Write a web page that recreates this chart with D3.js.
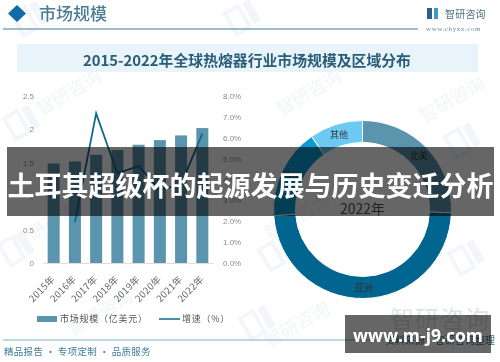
<!DOCTYPE html>
<html>
<head>
<meta charset="utf-8">
<script src="https://cdn.jsdelivr.net/npm/d3@7"></script>
<style>
  html, body { margin:0; padding:0; background:#fff; }
  text { font-family:"Noto Sans CJK SC","Noto Sans",sans-serif; }
</style>
</head>
<body>
<div class="chart"></div>
<script>
// values
const years = ["2015年","2016年","2017年","2018年","2019年","2020年","2021年","2022年"];
const marketSize = [1.49,1.52,1.62,1.69,1.77,1.84,1.91,2.02];
const growthYears = ["2016年","2017年","2018年","2019年","2020年","2021年","2022年"];
const growthRate = [1.96,7.17,4.3,4.65,3.5,3.76,6.2];
const leftTicks = [0,0.5,1,1.5,2,2.5];
const rightTicks = [0,1,2,3,4,5,6,7,8];
const regions = ["北美","亚洲","欧洲","其他"];
const regionShare = [25.6,48.3,16.4,9.7];
const regionColors = ["#5b94ad","#00668f","#0a9bd4","#6cc9f2"];

const chart = { width:500, height:362 };
// the plot area of the combo chart
const plot = { left:43, right:213, top:96, bottom:263 };
const donut = { x:362.5, y:209.5, outer:89, inner:67 };

const svg = d3.select(".chart").append("svg")
  .attr("width",chart.width)
  .attr("height",chart.height)
  .style("display","block");

const page = svg.append("g").style("filter","blur(0.35px)");

// faint watermarks behind everything
const markText = [[72,98],[312,98],[48,232],[300,222],[103,318],[300,330],[455,105]];
const markLogo = [[22,122],[243,17],[17,248],[277,253],[463,140],[467,257],[258,322],[30,18]];
page.selectAll(".markText").data(markText).enter().append("text")
  .attr("transform",d=>`translate(${d[0]},${d[1]}) rotate(-30)`)
  .attr("text-anchor","middle")
  .attr("font-size",18)
  .attr("fill","#f1f5f7")
  .text("智研咨询");
page.selectAll(".markLogo").data(markLogo).enter().append("g")
  .attr("transform",d=>`translate(${d[0]},${d[1]}) rotate(-30)`)
  .each(function(){
    const g = d3.select(this);
    g.append("rect").attr("x",-14).attr("y",-12).attr("width",15).attr("height",24).attr("fill","none").attr("stroke","#f2f6fa").attr("stroke-width",4);
    g.append("rect").attr("x",6).attr("y",-12).attr("width",8).attr("height",24).attr("fill","#f2f6fa");
  });

// header
page.append("path")
  .attr("d","M17,5L26,13.5L17,22L8,13.5Z")
  .attr("fill","#0f6ca6");
page.append("text").attr("x",39).attr("y",20)
  .attr("font-size",17).attr("font-weight",500).attr("fill","#4a7d96")
  .text("市场规模");
page.append("line").attr("x1",3).attr("x2",418).attr("y1",29).attr("y2",29)
  .attr("stroke","#3f7d99");
page.append("rect").attr("x",427).attr("y",8).attr("width",5).attr("height",11).attr("fill","#2c5f8e");
page.append("rect").attr("x",434).attr("y",8).attr("width",4).attr("height",11).attr("fill","#3c9ac9");
page.append("text").attr("x",445).attr("y",18)
  .attr("font-size",10).attr("fill","#4f6f84").attr("letter-spacing",0.2)
  .text("智研咨询");
page.append("text").attr("x",426).attr("y",31)
  .attr("font-size",7).attr("fill","#6f8a9a")
  .style("font-family","'Liberation Serif',serif").attr("letter-spacing",0.6)
  .text("www.chyxx.com");

// title strip
page.append("rect").attr("x",17).attr("y",44).attr("width",461).attr("height",28).attr("fill","#e8f3fa");
page.append("text").attr("x",247).attr("y",66)
  .attr("text-anchor","middle").attr("font-size",14.85).attr("font-weight",700).attr("fill","#2a5d78")
  .text("2015-2022年全球热熔器行业市场规模及区域分布");

// scales
const xScale = d3.scaleBand().domain(years).range([plot.left,plot.right]).paddingInner(0.435).paddingOuter(0.22);
const yScale = d3.scaleLinear().domain([0,2.5]).range([plot.bottom,plot.top]);
const y2Scale = d3.scaleLinear().domain([0,8]).range([plot.bottom,plot.top]);

// axes
const yAxis = d3.axisLeft(yScale).tickValues(leftTicks).tickSize(0).tickPadding(0).tickFormat(d=>d);
const leftAxis = page.append("g").attr("transform",`translate(34,0)`).call(yAxis);
const y2Axis = d3.axisRight(y2Scale).tickValues(rightTicks).tickSize(0).tickPadding(0).tickFormat(d=>d3.format(".1f")(d)+"%");
const rightAxis = page.append("g").attr("transform",`translate(223,0)`).call(y2Axis);
[leftAxis,rightAxis].forEach(a=>{
  a.select(".domain").remove();
  a.selectAll("text").attr("font-size",8).attr("fill","#8a8a8a").style("font-family","'Liberation Sans',sans-serif");
});

const xAxis = d3.axisBottom(xScale).tickSize(0).tickPadding(0);
const bottomAxis = page.append("g").attr("transform",`translate(0,${plot.bottom})`).call(xAxis);
bottomAxis.select(".domain").attr("stroke","#dddddd");
bottomAxis.selectAll("text")
  .attr("font-size",9.5).attr("letter-spacing",0.3).attr("fill","#666")
  .attr("text-anchor","end")
  .attr("dy",0).attr("y",0)
  .attr("transform","translate(2,17) rotate(-45)");

// bars
page.selectAll(".bar").data(marketSize).enter().append("rect")
  .attr("class","bar")
  .attr("x",(d,i)=>xScale(years[i]))
  .attr("y",d=>yScale(d))
  .attr("width",xScale.bandwidth())
  .attr("height",d=>plot.bottom-yScale(d))
  .attr("fill","#5b94ad");

// growth line
const line = d3.line()
  .x((d,i)=>xScale(growthYears[i])+xScale.bandwidth()/2)
  .y(d=>y2Scale(d));
page.append("path").datum(growthRate)
  .attr("d",line)
  .attr("fill","none").attr("stroke","#0f6a8c").attr("stroke-width",1.8);

// legend
page.append("rect").attr("x",37).attr("y",316).attr("width",20).attr("height",6).attr("fill","#5b94ad");
page.append("text").attr("x",60).attr("y",322)
  .attr("font-size",9).attr("letter-spacing",0.75).attr("fill","#555")
  .text("市场规模（亿美元）");
page.append("line").attr("x1",159).attr("x2",180).attr("y1",319).attr("y2",319)
  .attr("stroke","#0f6a8c").attr("stroke-width",1.5);
page.append("text").attr("x",182).attr("y",322)
  .attr("font-size",9).attr("letter-spacing",0.75).attr("fill","#555")
  .text("增速（%）");

// donut
const pie = d3.pie().sort(null).value(d=>d);
const arc = d3.arc().innerRadius(donut.inner).outerRadius(donut.outer);
const slices = page.append("g").attr("transform",`translate(${donut.x},${donut.y})`);
slices.selectAll("path").data(pie(regionShare)).enter().append("path")
  .attr("d",arc)
  .attr("fill",(d,i)=>regionColors[i])
  .attr("stroke","#fff").attr("stroke-width",1);
slices.selectAll("text").data(pie(regionShare)).enter().append("text")
  .attr("transform",d=>`translate(${arc.centroid(d)})`)
  .attr("text-anchor","middle").attr("dy","0.35em")
  .attr("font-size",9).attr("fill","#333")
  .text((d,i)=>regions[i]);
slices.append("text").attr("text-anchor","middle").attr("y",4)
  .attr("font-size",14).attr("fill","#555")
  .text("2022年");

// footer
page.append("line").attr("x1",3).attr("x2",383).attr("y1",340).attr("y2",340)
  .attr("stroke","#7fb0c4");
page.append("text").attr("x",4).attr("y",355)
  .attr("font-size",9.5).attr("letter-spacing",0.3).attr("fill","#3f7d99")
  .text("精品报告 · 专项定制 · 品质服务");
page.append("text").attr("x",385).attr("y",344)
  .attr("font-size",10).attr("fill","#3f6f88")
  .text("资料来源：智研咨询整理");

// overlays, these sit on top of the chart
svg.append("rect").attr("x",7).attr("y",147).attr("width",487).attr("height",69).attr("fill","rgba(0,0,0,0.6)");
svg.append("text").attr("x",250.5).attr("y",196)
  .attr("text-anchor","middle").attr("font-size",27).attr("font-weight",700).attr("fill","#fff")
  .text("土耳其超级杯的起源发展与历史变迁分析");

svg.append("text").attr("x",390).attr("y",328).attr("font-size",24).attr("letter-spacing",1).attr("fill","#dfe3e6").text("智研咨询");
svg.append("rect").attr("x",345).attr("y",315).attr("width",146).attr("height",38).attr("fill","rgba(0,0,0,0.6)");
svg.append("text").attr("x",418).attr("y",342)
  .attr("text-anchor","middle").attr("font-size",17.5).attr("font-weight",700).attr("fill","#fff")
  .style("font-family","'Open Sans',sans-serif")
  .text("www.m-j9.com");
</script>
</body>
</html>
